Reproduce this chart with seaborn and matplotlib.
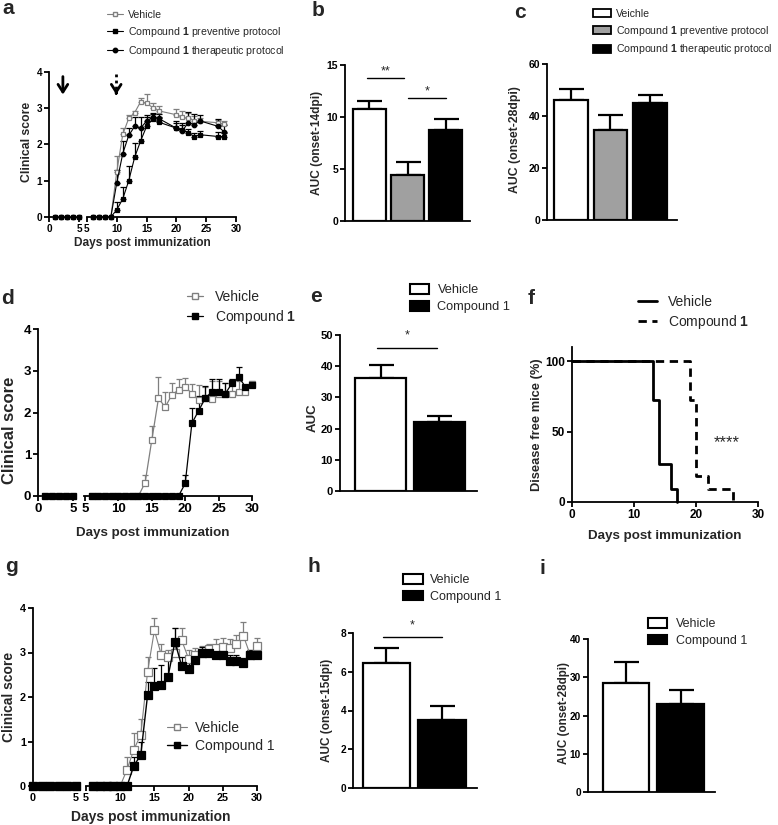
import numpy as np
import pandas as pd
import seaborn as sns
import matplotlib.pyplot as plt
from matplotlib.lines import Line2D
from matplotlib.patches import Patch

sns.set_style('ticks')
plt.rcParams['font.family'] = ['Liberation Sans', 'DejaVu Sans']
plt.rcParams['mathtext.fontset'] = 'custom'
plt.rcParams['mathtext.rm'] = 'Liberation Sans'
plt.rcParams['mathtext.bf'] = 'Liberation Sans:bold'
plt.rcParams['axes.linewidth'] = 1.3
plt.rcParams['axes.edgecolor'] = 'black'

GREY = '#7f7f7f'

# ---- panel a: clinical score, three groups ----
a_days = [1, 2, 3, 4, 5, 6, 7, 8, 9, 10, 11, 12, 13, 14, 15, 16, 17, 20, 21, 22, 23, 24, 27, 28]
a_veh = [0, 0, 0, 0, 0, 0, 0, 0, 0, 1.25, 2.28, 2.72, 2.88, 3.18, 3.14, 3.02, 2.93, 2.82, 2.75, 2.72, 2.66, 2.64, 2.6, 2.56]
a_veh_err = [0, 0, 0, 0, 0, 0, 0, 0, 0, 0.42, 0.17, 0.08, 0.05, 0.1, 0.25, 0.12, 0.12, 0.15, 0.18, 0.15, 0.12, 0.1, 0.08, 0.1]
a_prev = [0, 0, 0, 0, 0, 0, 0, 0, 0, 0.2, 0.5, 1.0, 1.65, 2.1, 2.5, 2.7, 2.62, 2.45, 2.4, 2.32, 2.22, 2.27, 2.22, 2.22]
a_prev_err = [0, 0, 0, 0, 0, 0, 0, 0, 0, 0.2, 0.32, 0.42, 0.4, 0.35, 0.25, 0.15, 0.15, 0.15, 0.15, 0.12, 0.1, 0.1, 0.12, 0.1]
a_ther = [0, 0, 0, 0, 0, 0, 0, 0, 0, 0.95, 1.75, 2.25, 2.5, 2.45, 2.65, 2.75, 2.72, 2.45, 2.38, 2.6, 2.55, 2.65, 2.5, 2.35]
a_ther_err = [0, 0, 0, 0, 0, 0, 0, 0, 0, 0.35, 0.35, 0.2, 0.25, 0.3, 0.15, 0.12, 0.12, 0.2, 0.2, 0.3, 0.3, 0.15, 0.2, 0.2]

# ---- panels b, c: AUC bars ----
abc_groups = ['Vehicle', 'Preventive', 'Therapeutic']
b_auc = [10.76, 4.47, 8.74]
b_sem = [0.77, 1.22, 1.06]
c_groups = ['Veichle', 'Compound 1 preventive protocol', 'Compound 1 therapeutic protocol']
c_auc = [46.0, 34.6, 45.1]
c_sem = [4.2, 5.8, 2.9]

# ---- panel d ----
d_days = list(range(1, 31))
d_veh = [0, 0, 0, 0, 0, 0, 0, 0, 0, 0, 0, 0, 0, 0.32, 1.34, 2.34, 2.13, 2.42, 2.54, 2.62,
         2.45, 2.3, 2.34, 2.32, 2.45, 2.45, 2.45, 2.5, 2.5, 2.68]
d_veh_err = [0, 0, 0, 0, 0, 0, 0, 0, 0, 0, 0, 0, 0, 0.18, 0.34, 0.5, 0.37, 0.28, 0.26, 0.2,
             0.23, 0.35, 0.26, 0.43, 0.3, 0.25, 0.3, 0.25, 0.1, 0.07]
d_cmp = [0, 0, 0, 0, 0, 0, 0, 0, 0, 0, 0, 0, 0, 0, 0, 0, 0, 0, 0, 0.3,
         1.74, 2.04, 2.34, 2.5, 2.5, 2.45, 2.7, 2.85, 2.62, 2.67]
d_cmp_err = [0, 0, 0, 0, 0, 0, 0, 0, 0, 0, 0, 0, 0, 0, 0, 0, 0, 0, 0, 0.2,
             0.36, 0.36, 0.3, 0.3, 0.3, 0.25, 0.1, 0.25, 0.05, 0.07]

# ---- panel e ----
two_groups = ['Vehicle', 'Compound 1']
e_auc = [36.3, 22.0]
e_sem = [4.2, 2.0]

# ---- panel f: disease free mice ----
f_veh_t = [0, 13, 14, 16, 17]
f_veh_s = [100, 72.7, 27.3, 9.1, 0]
f_cmp_t = [0, 19, 20, 22, 26]
f_cmp_s = [100, 72.7, 18.2, 9.1, 0]

# ---- panel g ----
g_days = list(range(0, 31))
g_veh = [0, 0, 0, 0, 0, 0, 0, 0, 0, 0, 0, 0.37, 0.82, 1.15, 2.56, 3.5, 2.95, 2.9, 3.0, 3.27,
         2.86, 2.95, 3.0, 3.07, 3.1, 3.12, 3.1, 3.2, 3.38, 2.95, 3.15]
g_veh_err = [0, 0, 0, 0, 0, 0, 0, 0, 0, 0, 0, 0.28, 0.36, 0.35, 0.35, 0.27, 0.25, 0.15, 0.55, 0.28,
             0.2, 0.15, 0.15, 0.13, 0.2, 0.2, 0.2, 0.2, 0.3, 0.1, 0.18]
g_cmp = [0, 0, 0, 0, 0, 0, 0, 0, 0, 0, 0, 0, 0.46, 0.69, 2.04, 2.25, 2.26, 2.46, 3.24, 2.69,
         2.64, 2.84, 3.0, 3.0, 2.95, 2.95, 2.82, 2.82, 2.76, 2.95, 2.95]
g_cmp_err = [0, 0, 0, 0, 0, 0, 0, 0, 0, 0, 0, 0, 0.2, 0.3, 0.3, 0.4, 0.45, 0.4, 0.3, 0.2,
             0.15, 0.15, 0.12, 0.12, 0.12, 0.12, 0.12, 0.12, 0.12, 0.1, 0.1]

# ---- panels h, i ----
h_auc = [6.45, 3.49]
h_sem = [0.78, 0.76]
i_auc = [28.6, 22.9]
i_sem = [5.5, 3.7]

W, H = 778, 825
fig = plt.figure(figsize=(W / 100, H / 100), dpi=100)


def add_ax(x0, y0, x1, y1):
    return fig.add_axes([x0 / W, 1 - y1 / H, (x1 - x0) / W, (y1 - y0) / H])


def ftext(x, y, s, **kw):
    kw.setdefault('ha', 'center')
    kw.setdefault('va', 'center')
    fig.text(x / W, 1 - y / H, s, **kw)


def bold_ticks(ax, fs):
    ax.tick_params(width=1.3, length=3.5, labelsize=fs, pad=1.5, colors='black')
    plt.setp(ax.get_xticklabels() + ax.get_yticklabels(), fontweight='bold')


def leg(handles, labels, x, y, fs, hl=1.5, hp=0.6, ls=0.4, hh=0.7):
    fig.legend(handles, labels, loc='upper left', bbox_to_anchor=(x / W, 1 - y / H),
               frameon=False, fontsize=fs, handlelength=hl, handletextpad=hp,
               labelspacing=ls, handleheight=hh, borderpad=0, borderaxespad=0)


def course(box1, box2, xlim1, xlim2, ticks2, days, series, fs):
    ax1 = add_ax(*box1)
    ax2 = add_ax(*box2)
    days = np.array(days)
    for s in series:
        vals = np.array(s['y'])
        err = np.array(s['err'])
        for ax, m in ((ax1, days <= 5), (ax2, days > 5)):
            sns.lineplot(x=days[m], y=vals[m], ax=ax, color=s['line'], linewidth=s['lw'],
                         marker=s['marker'], markersize=s['ms'], markerfacecolor=s['mfc'],
                         markeredgecolor=s['mec'], markeredgewidth=0.9, errorbar=None,
                         clip_on=False, zorder=s.get('z', 3))
            e = m & (err > 0)
            ax.errorbar(days[e], vals[e], yerr=[np.zeros(e.sum()), err[e]], fmt='none',
                        ecolor=s['line'], elinewidth=0.9, capsize=2.2, capthick=0.9,
                        clip_on=False, zorder=2)
    for ax in (ax1, ax2):
        ax.set_ylim(0, 4)
        ax.set_xlabel('')
        ax.set_ylabel('')
    ax1.set_xlim(*xlim1)
    ax2.set_xlim(*xlim2)
    ax1.set_xticks([0, 5])
    ax2.set_xticks(ticks2)
    ax1.set_yticks([0, 1, 2, 3, 4])
    ax2.set_yticks([])
    sns.despine(ax=ax1)
    sns.despine(ax=ax2, left=True)
    bold_ticks(ax1, fs)
    bold_ticks(ax2, fs)
    return ax1, ax2


def bars(box, groups, means, sems, colors, width, xlim, ylim, yticks, fs):
    ax = add_ax(*box)
    df = pd.DataFrame({'group': groups, 'auc': means})
    sns.barplot(data=df, x='group', y='auc', hue='group', order=groups, hue_order=groups,
                palette=colors, edgecolor='black', linewidth=1.6, width=width,
                errorbar=None, legend=False, ax=ax, zorder=3)
    n = len(groups)
    ax.errorbar(np.arange(n), means, yerr=[np.zeros(n), sems], fmt='none', ecolor='black',
                elinewidth=1.6, capsize=9, capthick=1.6, zorder=2)
    ax.set_xlim(*xlim)
    ax.set_ylim(*ylim)
    ax.set_yticks(yticks)
    ax.set_xticks([])
    ax.set_xlabel('')
    ax.set_ylabel('')
    sns.despine(ax=ax)
    bold_ticks(ax, fs)
    return ax


def sig(ax, x0, x1, y, ty, s, fs=9):
    ax.plot([x0, x1], [y, y], color='black', lw=1, clip_on=False)
    ax.text((x0 + x1) / 2, ty, s, ha='center', va='center', fontsize=fs, clip_on=False)


# ---------------- panel a ----------------
a1, a2 = course((49, 72, 81, 217), (87, 72, 236, 217), (0, 5.3), (5, 30),
                [5, 10, 15, 20, 25, 30], a_days,
                [dict(y=a_veh, err=a_veh_err, line=GREY, lw=0.8, marker='s', ms=3.2,
                      mfc='white', mec=GREY, z=3),
                 dict(y=a_prev, err=a_prev_err, line='black', lw=0.8, marker='s', ms=3.2,
                      mfc='black', mec='black', z=4),
                 dict(y=a_ther, err=a_ther_err, line='black', lw=0.8, marker='o', ms=3.2,
                      mfc='black', mec='black', z=4)], 7.2)
# treatment start arrows: solid (preventive), dotted (therapeutic)
arrow_head = dict(arrowstyle='->,head_length=0.55,head_width=0.35', lw=2, color='black')
a1.annotate('', xy=(2.3, 3.3), xytext=(2.3, 3.95), annotation_clip=False, arrowprops=arrow_head)
a2.plot([9.9, 9.9], [3.95, 3.45], color='black', lw=2, ls=(0, (1, 1.2)), clip_on=False)
a2.annotate('', xy=(9.9, 3.3), xytext=(9.9, 3.5), annotation_clip=False, arrowprops=arrow_head)
leg([Line2D([], [], color=GREY, lw=0.8, marker='s', ms=3.2, mfc='white', mec=GREY),
     Line2D([], [], color='black', lw=0.8, marker='s', ms=3.2),
     Line2D([], [], color='black', lw=0.8, marker='o', ms=3.2)],
    ['Vehicle', r'Compound $\mathbf{1}$ preventive protocol', r'Compound $\mathbf{1}$ therapeutic protocol'],
    107, 10, 7.6, hl=1.5, hp=0.45, ls=0.45)
ftext(27, 142, 'Clinical score', rotation=90, fontsize=8.8, fontweight='bold')
ftext(142, 243, 'Days post immunization', fontsize=8.6, fontweight='bold')

# ---------------- panel b ----------------
axb = bars((345, 65, 470, 221), abc_groups, b_auc, b_sem, ['white', '#a0a0a0', 'black'],
           0.87, (-0.64, 2.64), (0, 15), [0, 5, 10, 15], 7.5)
sig(axb, -0.07, 0.91, 13.75, 14.4, '**')
sig(axb, 1.01, 2.01, 11.8, 12.45, '*')
ftext(317, 143, 'AUC (onset-14dpi)', rotation=90, fontsize=8.6, fontweight='bold')

# ---------------- panel c ----------------
axc = bars((547, 64, 677, 220), c_groups, c_auc, c_sem, ['white', '#a0a0a0', 'black'],
           0.85, (-0.6, 2.68), (0, 60), [0, 20, 40, 60], 7.5)
ftext(515, 140, 'AUC (onset-28dpi)', rotation=90, fontsize=8.8, fontweight='bold')
leg([Patch(fc='white', ec='black', lw=1.3), Patch(fc='#a0a0a0', ec='black', lw=1.3),
     Patch(fc='black', ec='black', lw=1.3)],
    ['Veichle', r'Compound $\mathbf{1}$ preventive protocol', r'Compound $\mathbf{1}$ therapeutic protocol'],
    593, 9, 7.6, hl=1.75, hp=0.45, ls=0.45, hh=0.8)

# ---------------- panel d ----------------
d1, d2 = course((38, 329, 74, 496), (84, 329, 252, 496), (0, 5.15), (4.85, 30),
                [5, 10, 15, 20, 25, 30], d_days,
                [dict(y=d_veh, err=d_veh_err, line=GREY, lw=0.9, marker='s', ms=3.8,
                      mfc='white', mec=GREY, z=3),
                 dict(y=d_cmp, err=d_cmp_err, line='black', lw=0.9, marker='s', ms=3.8,
                      mfc='black', mec='black', z=4)], 9.5)
leg([Line2D([], [], color=GREY, lw=0.9, marker='s', ms=3.8, mfc='white', mec=GREY),
     Line2D([], [], color='black', lw=0.9, marker='s', ms=3.8)],
    ['Vehicle', r'Compound $\mathbf{1}$'], 187, 290, 10, hl=1.15, hp=0.85, ls=0.3)
ftext(10, 430, 'Clinical score', rotation=90, fontsize=12, fontweight='bold')
ftext(153, 533, 'Days post immunization', fontsize=9.6, fontweight='bold')

# ---------------- panel e ----------------
axe = bars((340, 335, 477, 491), two_groups, e_auc, e_sem, ['white', 'black'],
           0.87, (-0.69, 1.64), (0, 50), [0, 10, 20, 30, 40, 50], 8)
sig(axe, -0.06, 0.96, 45.8, 49.8, '*')
ftext(313, 418, 'AUC', rotation=90, fontsize=9.5, fontweight='bold')
leg([Patch(fc='white', ec='black', lw=1.5), Patch(fc='black', ec='black', lw=1.5)],
    ['Vehicle', 'Compound 1'], 410, 284, 9.2, hl=1.45, hp=0.7, ls=0.35, hh=0.8)

# ---------------- panel f ----------------
axf = add_ax(572, 347, 758, 502)
sns.lineplot(x=f_veh_t, y=f_veh_s, ax=axf, color='black', linewidth=2,
             drawstyle='steps-post', errorbar=None, clip_on=False)
sns.lineplot(x=f_cmp_t, y=f_cmp_s, ax=axf, color='black', linewidth=2, linestyle=(0, (3, 2)),
             drawstyle='steps-post', errorbar=None, clip_on=False)
axf.set_xlim(0, 30)
axf.set_ylim(0, 110)
axf.set_xticks([0, 10, 20, 30])
axf.set_yticks([0, 50, 100])
axf.set_xlabel('')
axf.set_ylabel('')
sns.despine(ax=axf)
bold_ticks(axf, 8.5)
axf.text(25, 42, '****', ha='center', va='center', fontsize=12)
leg([Line2D([], [], color='black', lw=2), Line2D([], [], color='black', lw=2, ls=(0, (3, 2)))],
    ['Vehicle', r'Compound $\mathbf{1}$'], 638, 295, 10, hl=1.4, hp=0.75, ls=0.3)
ftext(537, 425, 'Disease free mice (%)', rotation=90, fontsize=9.3, fontweight='bold')
ftext(665, 536, 'Days post immunization', fontsize=9.6, fontweight='bold')

# ---------------- panel g ----------------
g1, g2 = course((33, 608, 78, 786), (86, 608, 257, 786), (0, 5.25), (5, 30),
                [5, 10, 15, 20, 25, 30], g_days,
                [dict(y=g_veh, err=g_veh_err, line=GREY, lw=0.8, marker='s', ms=5.5,
                      mfc='white', mec=GREY, z=3),
                 dict(y=g_cmp, err=g_cmp_err, line='black', lw=1.0, marker='s', ms=6,
                      mfc='black', mec='black', z=4)], 7.8)
leg([Line2D([], [], color=GREY, lw=0.8, marker='s', ms=4, mfc='white', mec=GREY),
     Line2D([], [], color='black', lw=1.0, marker='s', ms=5)],
    ['Vehicle', 'Compound 1'], 167, 721, 10, hl=1.45, hp=0.55, ls=0.3)
ftext(9, 697, 'Clinical score', rotation=90, fontsize=10, fontweight='bold')
ftext(151, 817, 'Days post immunization', fontsize=10, fontweight='bold')

# ---------------- panel h ----------------
axh = bars((353, 633, 477, 788), two_groups, h_auc, h_sem, ['white', 'black'],
           0.85, (-0.6, 1.63), (0, 8), [0, 2, 4, 6, 8], 7.3)
sig(axh, -0.06, 1.0, 7.8, 8.4, '*')
ftext(327, 710, 'AUC (onset-15dpi)', rotation=90, fontsize=8.5, fontweight='bold')
leg([Patch(fc='white', ec='black', lw=1.5), Patch(fc='black', ec='black', lw=1.5)],
    ['Vehicle', 'Compound 1'], 403, 574, 9, hl=1.6, hp=0.55, ls=0.35, hh=0.8)

# ---------------- panel i ----------------
axi = bars((588, 639, 715, 792), two_groups, i_auc, i_sem, ['white', 'black'],
           0.85, (-0.7, 1.63), (0, 40), [0, 10, 20, 30, 40], 7.3)
ftext(564, 713, 'AUC (onset-28dpi)', rotation=90, fontsize=8.4, fontweight='bold')
leg([Patch(fc='white', ec='black', lw=1.5), Patch(fc='black', ec='black', lw=1.5)],
    ['Vehicle', 'Compound 1'], 648, 618, 9, hl=1.55, hp=0.65, ls=0.35, hh=0.8)

# panel letters
for lt, x, y in [('a', 8, 9), ('b', 318, 11), ('c', 520, 12), ('d', 7, 298), ('e', 316, 296),
                 ('f', 531, 298), ('g', 12, 566), ('h', 314, 566), ('i', 542, 568)]:
    ftext(x, y, lt, fontsize=15, fontweight='bold')

fig.savefig('out.png', dpi=100, facecolor='white')
